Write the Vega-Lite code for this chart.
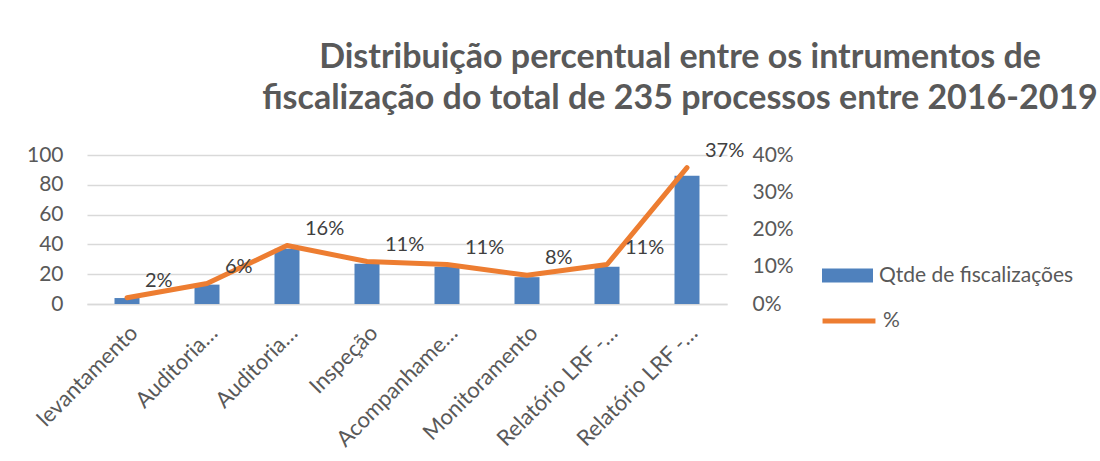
{
  "$schema": "https://vega.github.io/schema/vega-lite/v6.json",
  "width": 640,
  "height": 149,
  "autosize": {"type": "none"},
  "padding": {"left": 87, "top": 155, "right": 373, "bottom": 157},
  "background": "white",
  "title": {
    "text": ["Distribuição percentual entre os intrumentos de", "fiscalização do total de 235 processos entre 2016-2019"],
    "anchor": "middle",
    "dx": 273,
    "offset": 25,
    "fontSize": 34,
    "lineHeight": 41,
    "font": "Lato",
    "fontWeight": "bold",
    "color": "#595959"
  },
  "data": {
    "values": [
      {"i": 0, "categoria": "levantamento", "qtde": 4, "pct": 0.017},
      {"i": 1, "categoria": "Auditoria…", "qtde": 13, "pct": 0.055},
      {"i": 2, "categoria": "Auditoria…", "qtde": 37, "pct": 0.157},
      {"i": 3, "categoria": "Inspeção", "qtde": 27, "pct": 0.114},
      {"i": 4, "categoria": "Acompanhame…", "qtde": 25, "pct": 0.106},
      {"i": 5, "categoria": "Monitoramento", "qtde": 18, "pct": 0.077},
      {"i": 6, "categoria": "Relatório LRF -…", "qtde": 25, "pct": 0.106},
      {"i": 7, "categoria": "Relatório LRF -…", "qtde": 86, "pct": 0.366}
    ]
  },
  "encoding": {
    "x": {
      "field": "i",
      "type": "ordinal",
      "scale": {"paddingInner": 0.6875, "paddingOuter": 0.34375},
      "axis": {
        "title": null,
        "labelAngle": -45,
        "labelExpr": "['levantamento','Auditoria…','Auditoria…','Inspeção','Acompanhame…','Monitoramento','Relatório LRF -…','Relatório LRF -…'][datum.value]",
        "labelFont": "Lato",
        "labelFontSize": 22,
        "labelColor": "#595959",
        "labelPadding": 18,
        "labelLimit": 300,
        "ticks": false,
        "domainColor": "#d9d9d9",
        "domainWidth": 1.5,
        "grid": false
      }
    }
  },
  "layer": [
    {
      "mark": {"type": "bar"},
      "encoding": {
        "y": {
          "field": "qtde",
          "type": "quantitative",
          "scale": {"domain": [0, 100]},
          "axis": {
            "title": null,
            "values": [0, 20, 40, 60, 80, 100],
            "domain": false,
            "ticks": false,
            "labelPadding": 24,
            "labelFont": "Lato",
            "labelFontSize": 21,
            "labelColor": "#595959",
            "gridColor": "#d9d9d9",
            "gridWidth": 1.3
          }
        },
        "fill": {
          "datum": "Qtde de fiscalizações",
          "scale": {"range": ["#4F81BD"]},
          "legend": {
            "title": null,
            "orient": "none",
            "legendX": 735,
            "legendY": 95,
            "symbolType": "M-1,-0.275H1V0.275H-1Z",
            "symbolSize": 2601,
            "symbolStrokeWidth": 0,
            "labelFont": "Lato",
            "labelFontSize": 21,
            "labelColor": "#595959",
            "labelOffset": 6,
            "labelLimit": 400
          }
        }
      }
    },
    {
      "encoding": {
        "y": {
          "field": "pct",
          "type": "quantitative",
          "scale": {"domain": [0, 0.4]},
          "axis": {
            "title": null,
            "orient": "right",
            "format": ".0%",
            "values": [0, 0.1, 0.2, 0.3, 0.4],
            "grid": false,
            "domain": false,
            "ticks": false,
            "labelPadding": 25,
            "labelFont": "Lato",
            "labelFontSize": 21,
            "labelColor": "#595959"
          }
        }
      },
      "layer": [
        {
          "mark": {"type": "line", "strokeWidth": 5, "strokeCap": "round", "strokeJoin": "round"},
          "encoding": {
            "stroke": {
              "datum": "%",
              "scale": {"range": ["#ED7D31"]},
              "legend": {
                "title": null,
                "orient": "none",
                "legendX": 733,
                "legendY": 137,
                "symbolType": "stroke",
                "symbolSize": 2800,
                "symbolStrokeWidth": 5,
                "labelFont": "Lato",
                "labelFontSize": 21,
                "labelColor": "#595959",
                "labelOffset": 5
              }
            }
          }
        },
        {
          "mark": {"type": "text", "align": "left", "baseline": "middle", "dx": 18, "dy": -17, "font": "Lato", "fontSize": 20, "color": "#404040"},
          "encoding": {
            "text": {"field": "pct", "type": "quantitative", "format": ".0%"}
          }
        }
      ]
    }
  ],
  "resolve": {"scale": {"y": "independent", "fill": "independent", "stroke": "independent"}},
  "config": {"view": {"stroke": null}}
}
